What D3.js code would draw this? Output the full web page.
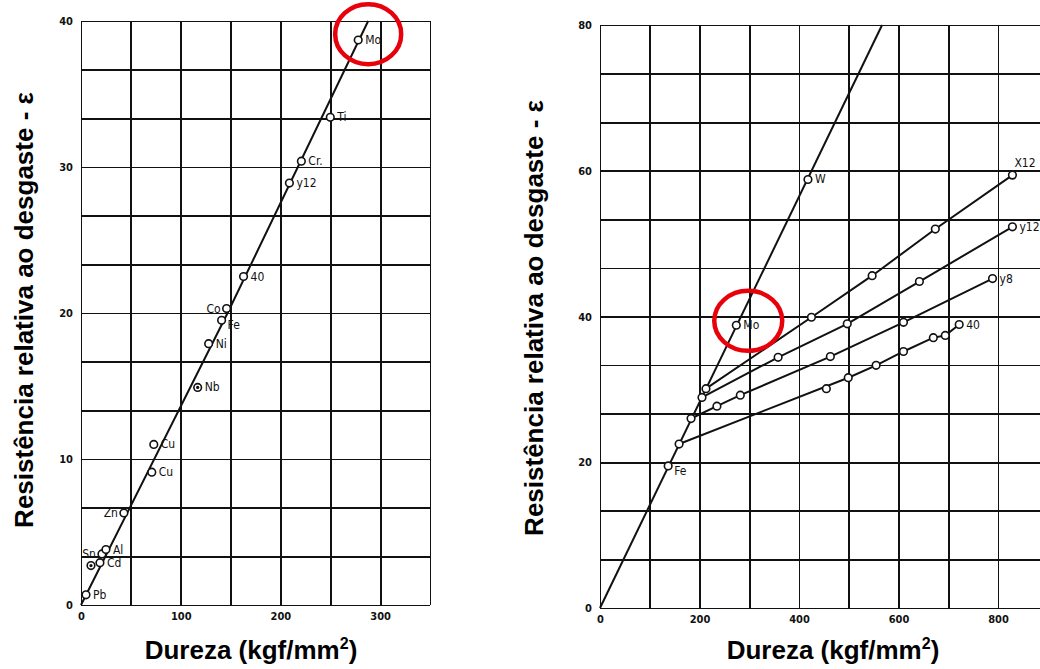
<!DOCTYPE html>
<meta charset="utf-8">
<style>
body { margin: 0; background: #fff; }
svg { display: block; }
.grid line, .grid path { stroke: #111; stroke-width: 1.8; shape-rendering: crispEdges; }
.tick-lbl text { font: bold 11px "DejaVu Sans Condensed", "DejaVu Sans", sans-serif; fill: #111; }
.tick-lbl path, .tick-lbl line { display: none; }
.curve { fill: none; stroke: #111; stroke-width: 2; }
.pt { fill: #fff; stroke: #111; stroke-width: 1.6; }
.lbl { font: 12px "DejaVu Sans Condensed", "DejaVu Sans", sans-serif; fill: #111; }
.title { font: bold 26px "Liberation Sans", Arial, sans-serif; fill: #000; }
.mark { fill: none; stroke: #e8000b; stroke-width: 4.5; }
</style>
<body>
<script src="https://cdn.jsdelivr.net/npm/d3@7"></script>
<script>

// ---- left chart: pure metals ----
var leftNames    = ["Pb", "", "Cd", "Sn", "Al", "Zn", "Cu", "Cu", "Nb", "Ni", "Fe", "Co", "40", "y12", "Cr.", "Ti", "Mo"];
var leftHardness = [5, 10, 19, 21, 25, 43, 71, 73, 117, 128, 141, 146, 163, 209, 221, 250, 278];
var leftResist   = [0.7, 2.7, 2.9, 3.5, 3.8, 6.3, 9.1, 11.0, 14.9, 17.9, 19.5, 20.3, 22.5, 28.9, 30.4, 33.4, 38.7];
var leftLabelSide = ["r", "", "r", "l", "r", "l", "r", "r", "r", "r", "rb", "l", "r", "r", "r", "r", "r"];
var leftDotted   = [false, true, false, false, false, false, false, false, true, false, false, false, false, false, false, false, false];
var leftLineX = [0, 147, 288];
var leftLineY = [0, 20, 40];
var leftXTicks = [0, 100, 200, 300];
var leftYTicks = [0, 10, 20, 30, 40];

// ---- right chart: steels ----
var mainLineX = [0, 567];
var mainLineY = [0, 80];
var mainPtsX = [137, 159, 183, 205, 213, 274, 418];
var mainPtsY = [19.5, 22.5, 26.0, 28.9, 30.1, 38.8, 58.8];
var mainPtsName = ["Fe", "", "", "", "", "Mo", "W"];

var x12X = [213, 425, 547, 674, 829];
var x12Y = [30.1, 39.9, 45.6, 52.0, 59.4];
var y12X = [205, 358, 497, 642, 829];
var y12Y = [28.9, 34.4, 39.0, 44.8, 52.3];
var y8X  = [183, 235, 282, 463, 610, 789];
var y8Y  = [26.0, 27.7, 29.2, 34.5, 39.2, 45.2];
var s40X = [159, 499, 555, 610, 670, 694, 722];
var s40Y = [22.5, 31.6, 33.3, 35.2, 37.1, 37.4, 38.9];
var s40ExtraX = [455];
var s40ExtraY = [30.1];
var branchNames = ["X12", "y12", "y8", "40"];
var rightXTicks = [0, 200, 400, 600, 800];
var rightYTicks = [0, 20, 40, 60, 80];

var W = 1040, H = 669;
var svg = d3.select("body").append("svg").attr("width", W).attr("height", H);

function zip(xs, ys) { return xs.map(function(v, i) { return [v, ys[i]]; }); }

function panel(cfg) {
    var g = svg.append("g");
    var x = d3.scaleLinear().domain(cfg.xDom).range(cfg.xRange);
    var y = d3.scaleLinear().domain(cfg.yDom).range(cfg.yRange);
    var h = cfg.yRange[0] - cfg.yRange[1];
    var w = cfg.xRange[1] - cfg.xRange[0];

    // grid
    g.append("g").attr("class", "grid")
        .attr("transform", "translate(0," + cfg.yRange[0] + ")")
        .call(d3.axisBottom(x).tickValues(d3.range(cfg.xDom[0], cfg.xDom[1] + 1, cfg.xStep)).tickSize(-h).tickFormat(""))
        .select(".domain").remove();
    g.append("g").attr("class", "grid")
        .attr("transform", "translate(" + cfg.xRange[0] + ",0)")
        .call(d3.axisLeft(y).tickValues(d3.range(0, cfg.yDom[1] + 0.01, cfg.yStep)).tickSize(-w).tickFormat(""))
        .select(".domain").remove();

    // tick labels
    g.append("g").attr("class", "tick-lbl")
        .attr("transform", "translate(0," + (cfg.yRange[0] + 4) + ")")
        .call(d3.axisBottom(x).tickValues(cfg.xTicks).tickSize(0).tickFormat(d3.format("d")));
    g.append("g").attr("class", "tick-lbl")
        .attr("transform", "translate(" + (cfg.xRange[0] - 5) + ",0)")
        .call(d3.axisLeft(y).tickValues(cfg.yTicks).tickSize(0).tickFormat(d3.format("d")));

    g.x = x; g.y = y;
    return g;
}

var line = function(g) { return d3.line().x(function(d) { return g.x(d[0]); }).y(function(d) { return g.y(d[1]); }); };

function points(g, pts, dotted) {
    g.selectAll(null).data(pts).enter().append("circle")
        .attr("class", "pt")
        .attr("cx", function(d) { return g.x(d[0]); })
        .attr("cy", function(d) { return g.y(d[1]); })
        .attr("r", 3.8);
    if (dotted) {
        g.selectAll(null).data(pts.filter(function(d, i) { return dotted[i]; })).enter().append("circle")
            .attr("cx", function(d) { return g.x(d[0]); })
            .attr("cy", function(d) { return g.y(d[1]); })
            .attr("r", 1.6).attr("fill", "#111");
    }
}

function label(g, px, py, txt, side) {
    if (!txt) return;
    var t = g.append("text").attr("class", "lbl").text(txt);
    var cx = g.x(px), cy = g.y(py);
    if (side === "l") t.attr("x", cx - 6).attr("y", cy + 4).attr("text-anchor", "end");
    else if (side === "rb") t.attr("x", cx + 6).attr("y", cy + 9);
    else if (side === "ra") t.attr("x", cx + 2).attr("y", cy - 8);
    else t.attr("x", cx + 7).attr("y", cy + 4);
}

function titles(cx, cyY, xY, xCenter) {
    svg.append("text").attr("class", "title")
        .attr("transform", "translate(" + cx + "," + cyY + ") rotate(-90)")
        .attr("text-anchor", "middle")
        .text("Resistência relativa ao desgaste - ε");
    var t = svg.append("text").attr("class", "title")
        .attr("x", xCenter).attr("y", xY).attr("text-anchor", "middle");
    t.append("tspan").text("Dureza (kgf/mm");
    t.append("tspan").attr("font-size", "16px").attr("dy", -10).text("2");
    t.append("tspan").attr("dy", 10).text(")");
}

// ---- left ----
var L = panel({ xDom: [0, 350], xRange: [81, 430], yDom: [0, 40], yRange: [605, 21],
                xStep: 50, yStep: 10 / 3, xTicks: leftXTicks, yTicks: leftYTicks });
L.append("path").attr("class", "curve").attr("d", line(L)(zip(leftLineX, leftLineY)));
var lp = zip(leftHardness, leftResist);
points(L, lp, leftDotted);
lp.forEach(function(d, i) { label(L, d[0], d[1], leftNames[i], leftLabelSide[i]); });
L.append("ellipse").attr("class", "mark")
    .attr("cx", L.x(288)).attr("cy", L.y(39.1)).attr("rx", 33).attr("ry", 30);

// ---- right ----
var R = panel({ xDom: [0, 900], xRange: [600, 600 + 900 * 0.4975], yDom: [0, 80], yRange: [608, 25],
                xStep: 100, yStep: 20 / 3, xTicks: rightXTicks, yTicks: rightYTicks });
R.append("path").attr("class", "curve").attr("d", line(R)(zip(mainLineX, mainLineY)));
[[x12X, x12Y], [y12X, y12Y], [y8X, y8Y], [s40X, s40Y]].forEach(function(s, k) {
    var pts = zip(s[0], s[1]);
    R.append("path").attr("class", "curve").attr("d", line(R)(pts));
    points(R, pts.slice(1));
    var last = pts[pts.length - 1];
    label(R, last[0], last[1], branchNames[k], k === 0 ? "ra" : "r");
});
points(R, zip(s40ExtraX, s40ExtraY));
var mp = zip(mainPtsX, mainPtsY);
points(R, mp);
mp.forEach(function(d, i) { label(R, d[0], d[1], mainPtsName[i], i === 0 ? "rb" : "r"); });
R.append("ellipse").attr("class", "mark")
    .attr("cx", R.x(298)).attr("cy", R.y(39.4)).attr("rx", 34).attr("ry", 30);

titles(33, 310, 659, 251);
titles(543, 318, 659, 833);
</script>
</body>
